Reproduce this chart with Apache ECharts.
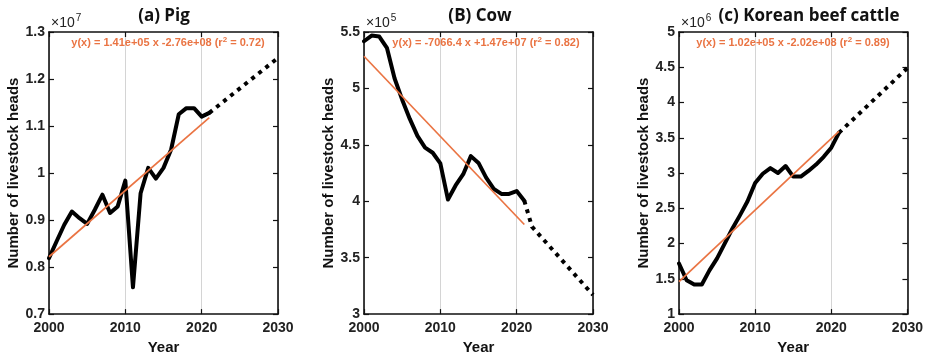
<!DOCTYPE html>
<html><head><meta charset="utf-8">
<script src="https://cdn.jsdelivr.net/npm/echarts@6/dist/echarts.min.js"></script>
<style>html,body{margin:0;padding:0;background:#fff}#c{width:926px;height:360px}</style>
</head><body><div id="c"></div>
<script>
// ---- data ----
const years = [2000,2001,2002,2003,2004,2005,2006,2007,2008,2009,2010,2011,2012,2013,2014,2015,2016,2017,2018,2019,2020,2021];
const xTicks = [2000, 2010, 2020, 2030];

// (a) Pig, units of 1e7 heads
const pigHeads = [0.819,0.855,0.890,0.918,0.904,0.892,0.922,0.954,0.915,0.929,0.984,0.757,0.957,1.011,0.988,1.011,1.050,1.125,1.138,1.138,1.120,1.128];
const pigProjYears = [2021, 2030];
const pigProj = [1.128, 1.245];
const pigFitYears = [2000, 2021];
const pigFit = [0.822, 1.118];
const pigTicks = [0.7,0.8,0.9,1.0,1.1,1.2,1.3];

// (B) Cow, units of 1e5 heads
const cowHeads = [5.418,5.468,5.460,5.360,5.090,4.900,4.730,4.580,4.476,4.430,4.335,4.015,4.140,4.240,4.400,4.340,4.210,4.110,4.065,4.065,4.090,4.005];
const cowProjYears = [2021, 2022, 2030];
const cowProj = [4.005, 3.775, 3.170];
const cowFitYears = [2000, 2021];
const cowFit = [5.285, 3.794];
const cowTicks = [3,3.5,4,4.5,5,5.5];

// (c) Korean beef cattle, units of 1e6 heads
const cattleHeads = [1.718,1.480,1.420,1.420,1.620,1.790,2.000,2.210,2.400,2.600,2.860,2.990,3.070,3.000,3.100,2.950,2.950,3.030,3.120,3.230,3.360,3.570];
const cattleProjYears = [2021, 2030];
const cattleProj = [3.570, 4.490];
const cattleFitYears = [2000, 2021];
const cattleFit = [1.460, 3.590];
const cattleTicks = [1,1.5,2,2.5,3,3.5,4,4.5,5];

const titles = ['(a) Pig', '(B) Cow', '(c) Korean beef cattle'];
const exponents = ['7', '5', '6'];
const eqMain = [
  ['y(x) = 1.41e+05 x -2.76e+08 (r', ' = 0.72)'],
  ['y(x) = -7066.4 x +1.47e+07 (r', ' = 0.82)'],
  ['y(x) = 1.02e+05 x -2.02e+08 (r', ' = 0.89)']
];
const yName = 'Number of livestock heads';
const xName = 'Year';

// ---- layout ----
const grids = [
  {left: 49, top: 32, width: 229, height: 284},
  {left: 364, top: 32, width: 229, height: 284},
  {left: 679, top: 32, width: 230, height: 284}
];
const titleX = [164, 480, 809];
const eqX = [168, 486, 793];
const yNameGap = [26, 23, 26];

const ORANGE = '#EA7443';
const FONT = 'Liberation Sans, Arial, sans-serif';

const P = [
  {heads: pigHeads, projY: pigProjYears, proj: pigProj, fitY: pigFitYears, fit: pigFit, ticks: pigTicks},
  {heads: cowHeads, projY: cowProjYears, proj: cowProj, fitY: cowFitYears, fit: cowFit, ticks: cowTicks},
  {heads: cattleHeads, projY: cattleProjYears, proj: cattleProj, fitY: cattleFitYears, fit: cattleFit, ticks: cattleTicks}
];

const zip = (xs, ys) => xs.map((x, i) => [x, ys[i]]);
const fmtY = v => String(parseFloat(v.toFixed(2)));
const fmtX = v => String(Math.round(v));

const xAxis = [], yAxis = [], series = [], graphic = [];
P.forEach((p, i) => {
  const tk = p.ticks;
  const yInt = tk[1] - tk[0];
  const common = {
    axisLine: {show: true, onZero: false, lineStyle: {color: '#111', width: 1.6}},
    axisTick: {show: true, inside: true, length: 5, lineStyle: {color: '#111', width: 1.2}}
  };
  xAxis.push(Object.assign({
    gridIndex: i, type: 'value', min: xTicks[0], max: xTicks[xTicks.length - 1], interval: xTicks[1] - xTicks[0],
    position: 'bottom',
    axisLabel: {show: true, margin: 7, color: '#222', fontFamily: FONT, fontWeight: 'bold', fontSize: 14, formatter: fmtX},
    splitLine: {show: true, lineStyle: {color: '#d4d4d4', width: 1}},
    name: xName, nameLocation: 'middle', nameGap: 24,
    nameTextStyle: {color: '#111', fontFamily: FONT, fontWeight: 'bold', fontSize: 15}
  }, common));
  xAxis.push(Object.assign({
    gridIndex: i, type: 'value', min: xTicks[0], max: xTicks[xTicks.length - 1], interval: xTicks[1] - xTicks[0],
    position: 'top', axisLabel: {show: false}, splitLine: {show: false}
  }, common));
  yAxis.push(Object.assign({
    gridIndex: i, type: 'value', min: tk[0], max: tk[tk.length - 1], interval: yInt, position: 'left',
    axisLabel: {show: true, margin: 4, color: '#222', fontFamily: FONT, fontWeight: 'bold', fontSize: 14, formatter: fmtY},
    splitLine: {show: false},
    name: yName, nameLocation: 'middle', nameGap: yNameGap[i], nameRotate: 90,
    nameTextStyle: {color: '#111', fontFamily: FONT, fontWeight: 'bold', fontSize: 15}
  }, common));
  yAxis.push(Object.assign({
    gridIndex: i, type: 'value', min: tk[0], max: tk[tk.length - 1], interval: yInt, position: 'right',
    axisLabel: {show: false}, splitLine: {show: false}
  }, common));

  series.push({
    type: 'line', xAxisIndex: i * 2, yAxisIndex: i * 2, data: zip(years, p.heads),
    showSymbol: false, symbol: 'none', lineStyle: {color: '#000', width: 4, join: 'round', cap: 'round'}, z: 2, silent: true
  });
  series.push({
    type: 'line', xAxisIndex: i * 2, yAxisIndex: i * 2, data: zip(p.projY, p.proj),
    showSymbol: false, symbol: 'none', lineStyle: {color: '#000', width: 4, type: [4, 5], cap: 'butt'}, z: 2, silent: true
  });
  series.push({
    type: 'line', xAxisIndex: i * 2, yAxisIndex: i * 2, data: zip(p.fitY, p.fit),
    showSymbol: false, symbol: 'none', lineStyle: {color: ORANGE, width: 1.7}, z: 3, silent: true
  });

  graphic.push({
    type: 'text', x: titleX[i], y: 16, z: 10,
    style: {text: titles[i], fill: '#111', font: 'bold 17px "Open Sans", "Noto Sans", sans-serif', align: 'center', verticalAlign: 'middle'}
  });
  graphic.push({
    type: 'text', x: grids[i].left + 2, y: 23, z: 10,
    style: {
      text: '{m|×10}{s|' + exponents[i] + '}', align: 'left', verticalAlign: 'middle',
      rich: {
        m: {fontFamily: FONT, fontSize: 14, fill: '#222', fontWeight: 'normal'},
        s: {fontFamily: FONT, fontSize: 10, fill: '#222', padding: [0, 0, 9, 1]}
      }
    }
  });
  graphic.push({
    type: 'text', x: eqX[i], y: 43, z: 10,
    style: {
      text: '{m|' + eqMain[i][0] + '}{s|2}{m|' + eqMain[i][1] + '}', align: 'center', verticalAlign: 'middle',
      rich: {
        m: {fontFamily: FONT, fontSize: 11, fontWeight: 'bold', fill: ORANGE},
        s: {fontFamily: FONT, fontSize: 8, fontWeight: 'bold', fill: ORANGE, padding: [0, 0, 6, 0]}
      }
    }
  });
});

const chart = echarts.init(document.getElementById('c'), null, {renderer: 'canvas'});
chart.setOption({
  animation: false,
  backgroundColor: '#fff',
  grid: grids,
  xAxis: xAxis,
  yAxis: yAxis,
  series: series,
  graphic: graphic
});
</script></body></html>
